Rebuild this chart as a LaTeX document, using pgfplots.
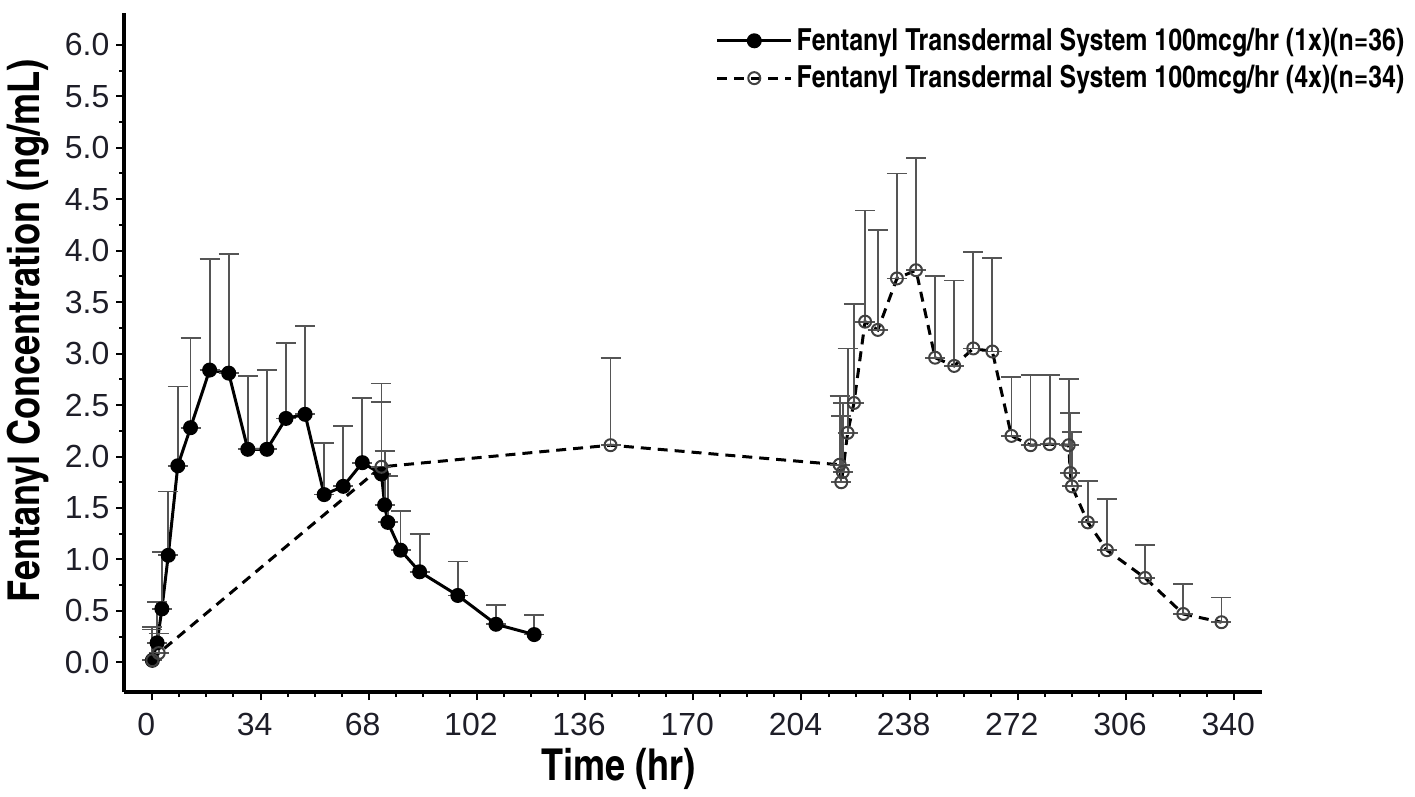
\documentclass[border=0pt]{standalone}
\usepackage{pgfplots}
\pgfplotsset{compat=1.18}
\usepackage{pgfplotstable}
\usepackage{fontspec}
\setmainfont{Liberation Sans}
\newfontfamily\condb{texgyreheroscn-bold.otf}

% time (hr), mean, +SD, lower (0: cap at the mean)
\pgfplotstableread{
t v ep em
0 0.02 0.30 0
1.5 0.19 0.40 0
3 0.52 0.55 0
5 1.04 0.62 0
8 1.91 0.77 0
12 2.28 0.87 0
18 2.84 1.08 0
24 2.81 1.16 0
30 2.07 0.71 0
36 2.07 0.77 0
42 2.37 0.73 0
48 2.41 0.86 0
54 1.63 0.50 0
60 1.71 0.59 0
66 1.94 0.63 0
72 1.83 0.88 0
73 1.53 0.52 0
74 1.36 0.45 0
78 1.09 0.38 0
84 0.88 0.37 0
96 0.65 0.33 0
108 0.37 0.19 0
120 0.27 0.19 0
}\onex

\pgfplotstableread{
t v ep em
0 0.02 0.32 0
2 0.09 0.19 0
72 1.90 0.63 0
144 2.11 0.85 0
216 1.92 0.67 0
216.5 1.75 0.64 0
217 1.85 0.67 0
218.5 2.23 0.82 0
220.5 2.52 0.96 0
224 3.31 1.08 0
228 3.23 0.97 0
234 3.73 1.02 0
240 3.81 1.09 0
246 2.96 0.79 0
252 2.88 0.83 0
258 3.05 0.94 0
264 3.02 0.91 0
270 2.20 0.57 0
276 2.11 0.68 0
282 2.12 0.67 0
288 2.11 0.64 0
288.5 1.84 0.58 0
289 1.71 0.53 0
294 1.36 0.40 0
300 1.09 0.50 0
312 0.82 0.32 0
324 0.47 0.29 0
336 0.39 0.24 0
}\fourx

\definecolor{errgray}{HTML}{555555}
\definecolor{ticktext}{HTML}{1E1E28}

\begin{document}
\begin{tikzpicture}
\begin{axis}[
  scale only axis, width=569.5pt, height=340pt,
  xmin=-8.8, xmax=348.8, ymin=-0.29, ymax=6.31,
  axis x line=bottom, axis y line=left,
  axis line style={-, line width=2pt},
  xtick={0,34,...,340}, minor x tick num=3,
  ytick={0,0.5,...,6}, minor y tick num=1,
  tick align=outside, major tick length=4pt, minor tick length=2.5pt,
  every tick/.style={black, line width=1pt},
  tick label style={font=\fontsize{16}{18}\selectfont, text=ticktext},
  /pgf/number format/assume math mode=true,
  yticklabel style={/pgf/number format/.cd, fixed, fixed zerofill, precision=1},
  xticklabel style={xshift=-3pt, yshift=-3pt},
  xlabel={Time (hr)},
  ylabel={Fentanyl Concentration (ng/mL)},
  label style={font=\condb\fontsize{22}{24}\selectfont},
  xlabel style={at={(rel axis cs:0.4346,-0.113)}, anchor=center},
  ylabel style={at={(rel axis cs:-0.085,0.532)}, anchor=center},
  clip=false,
  legend style={draw=none, fill=none, at={(rel axis cs:1.134,0.99)}, anchor=north east,
    font=\condb\fontsize{15.2}{17}\selectfont, cells={anchor=west}, row sep=2pt},
  legend image code/.code={\draw[mark repeat=2,mark phase=2] plot coordinates {(0cm,0cm) (0.65cm,0cm) (1.3cm,0cm)};},
  error bars/y dir=both, error bars/y explicit,
  error bars/error bar style={errgray, line width=0.9pt, solid},
  error bars/error mark options={errgray, line width=0.9pt, mark size=5pt, rotate=90},
]
\addplot[black, line width=1.5pt, mark=*, mark size=3pt, mark options={solid, fill=black}]
  table[x=t, y=v, y error plus=ep, y error minus=em] {\onex};
\addlegendentry{Fentanyl Transdermal System 100mcg/hr (1x)(n=36)}
\addplot[black, line width=1.5pt, dash pattern=on 5pt off 3.5pt, mark=o, mark size=3pt,
  mark options={solid, draw=black!75, fill=white, line width=1pt}]
  table[x=t, y=v, y error plus=ep, y error minus=em] {\fourx};
\addlegendentry{Fentanyl Transdermal System 100mcg/hr (4x)(n=34)}
\path (rel axis cs:-0.108,-0.141) rectangle (rel axis cs:1.1343,1.019);
\end{axis}
\end{tikzpicture}
\end{document}
